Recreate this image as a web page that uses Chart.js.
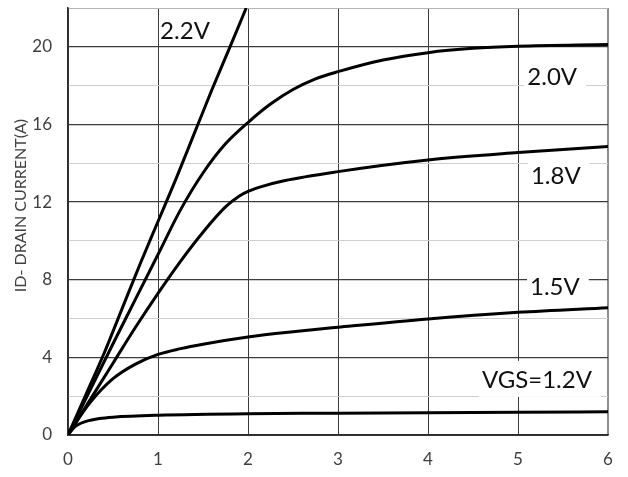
<!DOCTYPE html>
<html>
<head>
<meta charset="utf-8">
<script src="https://cdn.jsdelivr.net/npm/chart.js@4.4.1/dist/chart.umd.min.js"></script>
<style>
  html, body { margin: 0; padding: 0; background: #ffffff; }
  #wrap { width: 628px; height: 477px; position: relative; }
</style>
</head>
<body>
<div id="wrap"><canvas id="chart"></canvas></div>
<script>
// Output characteristics: drain current ID (A) versus drain voltage VDS (V)
const gateVoltages = ['2.2V', '2.0V', '1.8V', '1.5V', 'VGS=1.2V'];

const vds22 = [0, 0.2, 0.4, 0.6, 0.8, 1.0,  1.2,  1.4,  1.6,  1.8,  1.98];
const id22  = [0, 2.1, 4.2, 6.5, 8.8, 11.0, 13.2, 15.5, 17.8, 20.0, 22.0];

const vds20 = [0, 0.25, 0.5, 0.75, 1.0, 1.25, 1.5,  1.75, 2.0,  2.25,  2.5,  2.75,  3.0,   3.5,   4.0,  4.5,   5.0,   6.0];
const id20  = [0, 2.35, 4.7, 7.0,  9.3, 11.6, 13.5, 15.0, 16.1, 17.05, 17.8, 18.35, 18.72, 19.32, 19.7, 19.92, 20.03, 20.12];

const vds18 = [0, 0.25, 0.5, 0.75, 1.0, 1.25, 1.5,   1.75,  1.9,  2.0,   2.15, 2.4,  3.0,   4.0,   5.0,   6.0];
const id18  = [0, 1.85, 3.7, 5.55, 7.3, 8.95, 10.45, 11.75, 12.3, 12.55, 12.8, 13.1, 13.57, 14.17, 14.55, 14.86];

const vds15 = [0, 0.125, 0.25, 0.5, 0.75, 1.0,  1.25, 1.5,  2.0,  2.5,  3.0,  4.0,  5.0,  6.0];
const id15  = [0, 0.9,   1.7,  2.9, 3.65, 4.15, 4.45, 4.68, 5.05, 5.32, 5.55, 5.98, 6.32, 6.56];

const vds12 = [0, 0.05, 0.1, 0.2, 0.35, 0.5,  1.0,  2.0, 3.0,  4.0,  5.0,  6.0];
const id12  = [0, 0.3,  0.5, 0.7, 0.85, 0.92, 1.02, 1.1, 1.12, 1.15, 1.17, 1.2];

const xTicks = [0, 1, 2, 3, 4, 5, 6];
const yTickLabels = [0, 4, 8, 12, 16, 20];
const yTitle = 'ID- DRAIN CURRENT(A)';

const curves = [
  [vds22, id22], [vds20, id20], [vds18, id18], [vds15, id15], [vds12, id12]
];

// Where each curve's voltage tag sits (data coordinates of the text centre)
const tagPlacement = [
  { x: 1.30, y: 20.8, box: false },
  { x: 5.38, y: 18.45, box: true },
  { x: 5.42, y: 13.35, box: true },
  { x: 5.41, y: 7.63, box: true },
  { x: 5.21, y: 2.84, box: true }
];

const FONT = 'Lato, "Open Sans", sans-serif';
const AXIS_TEXT = '#404040';

const toPoints = (xs, ys) => xs.map((v, i) => ({ x: v, y: ys[i] }));

const datasets = curves.map((c, i) => ({
  label: gateVoltages[i],
  data: toPoints(c[0], c[1]),
  borderColor: '#000000',
  borderWidth: 3,
  pointRadius: 0,
  fill: false,
  cubicInterpolationMode: 'monotone'
}));

// Voltage tags with white backing that hides the grid behind them
const curveTags = {
  id: 'curveTags',
  beforeDatasetsDraw(chart) {
    const { ctx, scales } = chart;
    ctx.save();
    ctx.font = '24px ' + FONT;
    ctx.textBaseline = 'middle';
    ctx.textAlign = 'center';
    gateVoltages.forEach((text, i) => {
      const p = tagPlacement[i];
      const cx = scales.x.getPixelForValue(p.x);
      const cy = scales.y.getPixelForValue(p.y);
      const w = ctx.measureText(text).width;
      if (p.box) {
        ctx.fillStyle = '#ffffff';
        ctx.fillRect(cx - w / 2 - 3, cy - 19, w + 12, 36);
      }
      ctx.fillStyle = '#111111';
      ctx.fillText(text, cx, cy);
    });
    ctx.restore();
  },
  afterDraw(chart) {
    const { ctx, chartArea } = chart;
    ctx.save();
    ctx.font = '16px ' + FONT;
    ctx.fillStyle = AXIS_TEXT;
    ctx.textAlign = 'center';
    ctx.textBaseline = 'middle';
    ctx.translate(20.5, (chartArea.top + chartArea.bottom) / 2 - 16);
    ctx.rotate(-Math.PI / 2);
    ctx.fillText(yTitle, 0, 0);
    ctx.restore();
  }
};

new Chart(document.getElementById('chart'), {
  type: 'line',
  data: { datasets },
  plugins: [curveTags],
  options: {
    responsive: true,
    maintainAspectRatio: false,
    animation: false,
    layout: { padding: { top: 8, right: 20, left: 0, bottom: 0 } },
    plugins: { legend: { display: false }, tooltip: { enabled: false } },
    scales: {
      x: {
        type: 'linear',
        min: xTicks[0],
        max: xTicks[xTicks.length - 1],
        afterFit(scale) {
          scale.height = 42;
          scale.paddingLeft = 0;
          scale.paddingRight = 0;
        },
        afterBuildTicks(scale) { scale.ticks = xTicks.map(v => ({ value: v })); },
        ticks: {
          padding: 14,
          color: AXIS_TEXT,
          font: { family: FONT, size: 17 },
          maxRotation: 0
        },
        grid: {
          drawTicks: false,
          color: ctx => (ctx.tick && ctx.tick.value === 6) ? '#8c8c8c' : '#3c3c3c',
          lineWidth: ctx => (ctx.tick && ctx.tick.value === 6) ? 2 : 1
        },
        border: { color: '#2c2c2c', width: 1.5 }
      },
      y: {
        type: 'linear',
        min: 0,
        max: 22,
        afterFit(scale) {
          scale.width = 68;
          scale.paddingTop = 0;
          scale.paddingBottom = 0;
        },
        ticks: {
          stepSize: 2,
          padding: 16,
          color: AXIS_TEXT,
          font: { family: FONT, size: 17 },
          callback: v => yTickLabels.includes(v) ? String(v) : ''
        },
        grid: {
          drawTicks: false,
          color: ctx => {
            const v = ctx.tick ? ctx.tick.value : 0;
            if (v === 22) return '#b4b4b4';
            return v % 4 === 0 ? '#3c3c3c' : '#cfcfcf';
          },
          lineWidth: ctx => {
            const v = ctx.tick ? ctx.tick.value : 0;
            return (v % 4 === 0 && v !== 0) ? 1.3 : 1;
          }
        },
        border: { color: '#2c2c2c', width: 1.5 }
      }
    }
  }
});
</script>
</body>
</html>
